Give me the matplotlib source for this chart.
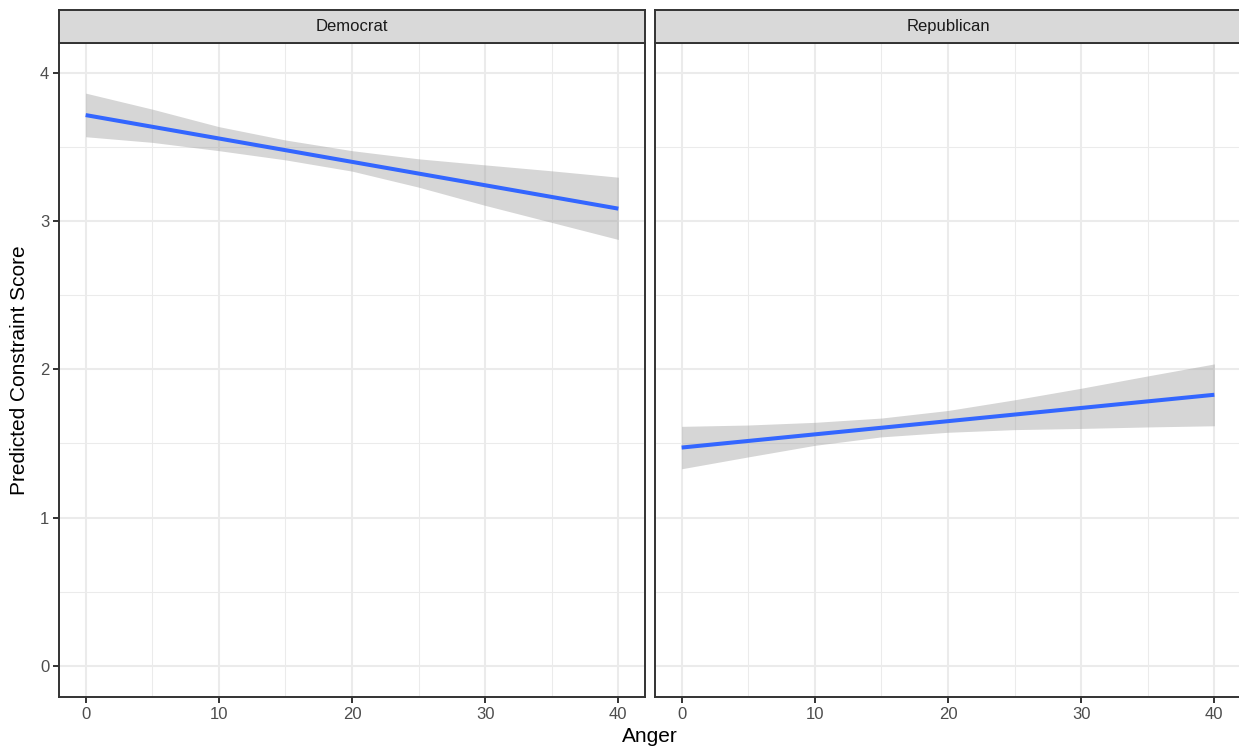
import numpy as np
import matplotlib.pyplot as plt

plt.rcParams['font.family'] = ['Liberation Sans', 'DejaVu Sans']

panels = ['Democrat', 'Republican']

# fitted line (endpoints) and confidence band
fit_x = [0, 40]
dem_fit = [3.714, 3.083]
rep_fit = [1.472, 1.828]

band_x = [0, 5, 10, 15, 20, 25, 30, 35, 40]
dem_hi = [3.862, 3.754, 3.636, 3.546, 3.474, 3.419, 3.378, 3.338, 3.295]
dem_lo = [3.568, 3.530, 3.474, 3.412, 3.336, 3.228, 3.105, 2.990, 2.875]
rep_hi = [1.615, 1.624, 1.642, 1.671, 1.722, 1.794, 1.872, 1.955, 2.036]
rep_lo = [1.329, 1.409, 1.487, 1.544, 1.575, 1.593, 1.601, 1.611, 1.619]

fits = [dem_fit, rep_fit]
his = [dem_hi, rep_hi]
los = [dem_lo, rep_lo]

W, H = 1239, 752
fig = plt.figure(figsize=(W / 100, H / 100), dpi=100)

lefts = [59, 655]
widths = [586, 590]   # right panel runs off the edge of the picture
xmax = [42, 42 + 4 / 13.3]
top, bottom = 43, 697
strip_top = 10

border = '#333333'
for i in range(2):
    ax = fig.add_axes([lefts[i] / W, (H - bottom) / H, widths[i] / W, (bottom - top) / H])
    ax.fill_between(band_x, los[i], his[i], color='#999999', alpha=0.4, lw=0, zorder=2)
    ax.plot(fit_x, fits[i], color='#3366FF', lw=2.9, solid_capstyle='butt', zorder=3)
    ax.set_xlim(-2, xmax[i])
    ax.set_ylim(-0.21, 4.2)
    ax.set_xticks([0, 10, 20, 30, 40])
    ax.set_xticks([5, 15, 25, 35], minor=True)
    ax.set_yticks([0, 1, 2, 3, 4])
    ax.set_yticks([0.5, 1.5, 2.5, 3.5], minor=True)
    ax.grid(which='major', color='#EBEBEB', lw=1.5, zorder=0)
    ax.grid(which='minor', color='#EBEBEB', lw=0.75, zorder=0)
    ax.set_axisbelow(True)
    for s in ax.spines.values():
        s.set_color(border)
        s.set_linewidth(1.4)
    ax.tick_params(which='major', length=4, width=1.4, color=border,
                   labelsize=12, labelcolor='#4D4D4D', pad=3)
    ax.tick_params(which='minor', length=0)
    if i == 1:
        ax.tick_params(axis='y', which='both', left=False, labelleft=False)

    # facet strip
    sax = fig.add_axes([lefts[i] / W, (H - top) / H, widths[i] / W, (top - strip_top) / H])
    sax.set_xticks([])
    sax.set_yticks([])
    sax.set_facecolor('#D9D9D9')
    for s in sax.spines.values():
        s.set_color(border)
        s.set_linewidth(1.4)
    sax.text(586 / 2 / widths[i], 0.5, panels[i], ha='center', va='center', fontsize=12,
             color='#1A1A1A', transform=sax.transAxes)

fig.text(650 / W, 1 - 736 / H, 'Anger', ha='center', va='center', fontsize=15)
fig.text(20 / W, 1 - 370 / H, 'Predicted Constraint Score', ha='center', va='center',
         rotation=90, fontsize=15)

fig.savefig('out.png', dpi=100)
